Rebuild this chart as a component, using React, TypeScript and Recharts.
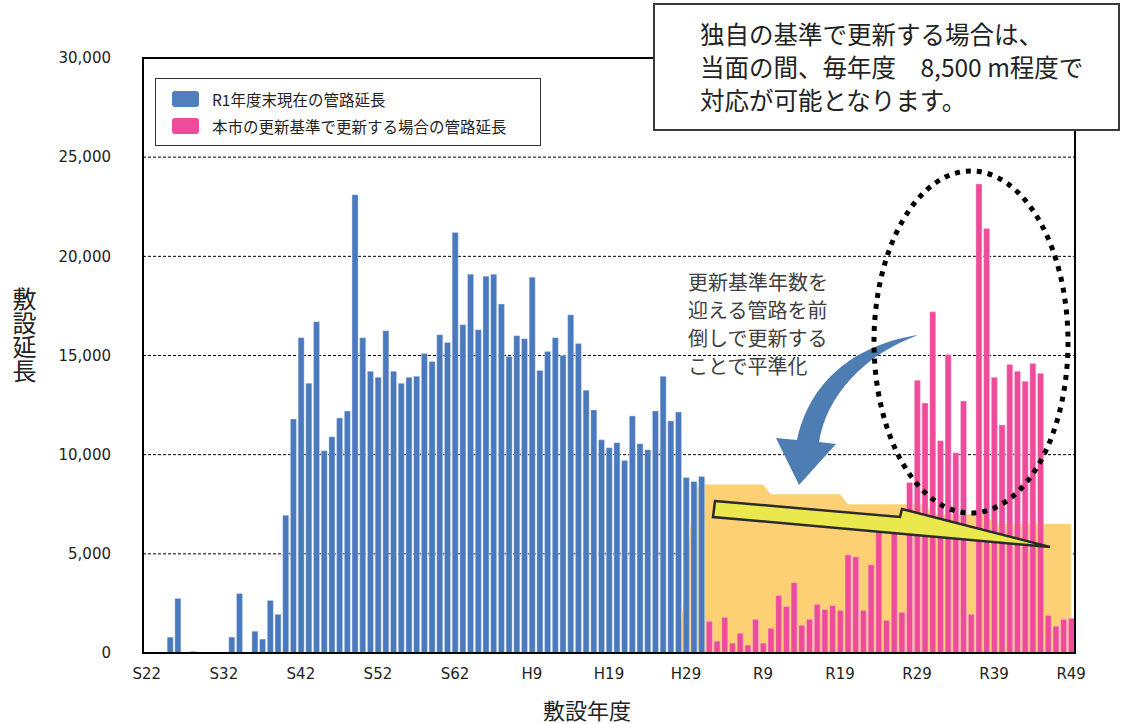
import { ComposedChart, Bar, Area, XAxis, YAxis, CartesianGrid } from 'recharts';

// fiscal years S22..S63, H1..H30, R1..R49
const eraLabels = (prefix: string, from: number, to: number) => {
  const out: string[] = [];
  for (let n = from; n <= to; n++) out.push(`${prefix}${n}`);
  return out;
};
const years = [...eraLabels('S', 22, 63), ...eraLabels('H', 1, 30), ...eraLabels('R', 1, 49)];

const yTicks = [0, 5000, 10000, 15000, 20000, 25000, 30000];

// existing pipes as of end of R1 (S22..R1)
const installedLength = [
  0, 0, 0, 800, 2750, 0, 80, 0, 0, 0,
  0, 800, 3000, 30, 1100, 700, 2650, 1950, 6950, 11800,
  15900, 13600, 16700, 10200, 10900, 11850, 12200, 23100, 15900, 14200,
  13900, 16250, 14200, 13600, 13900, 13950, 15100, 14700, 16050, 15650,
  21200, 16550, 19100, 16300, 19000, 19100, 17600, 14950, 16000, 15850,
  18950, 14250, 15200, 15900, 15000, 17050, 15600, 13250, 12250, 10750,
  10350, 10600, 9700, 11950, 10550, 10250, 12200, 13950, 11700, 12150,
  8850, 8650, 8900,
];

// renewal by city standard (R2..R49)
const renewalLength = [
  1600, 600, 1800, 500, 1000, 400, 1700, 500, 1250, 2900,
  2350, 3550, 1400, 1700, 2450, 2200, 2400, 2150, 4950, 4850,
  2150, 4450, 6300, 1650, 6500, 2050, 8600, 13750, 12600, 17200,
  10700, 15050, 10100, 12700, 1950, 23650, 21400, 13900, 11500, 14550,
  14200, 13700, 14600, 14100, 1900, 1350, 1700, 1750,
];

// leveled renewal (H28..R49)
const leveledLength = [
  0, 4000, 8200,
  8500, 8500, 8500, 8500, 8500, 8500, 8500, 8500, 8500,
  8000, 8000, 8000, 8000, 8000, 8000, 8000, 8000, 8000, 8000,
  7500, 7500, 7500, 7500, 7500, 7500, 7500, 7500, 7500, 7500, 7500,
  7000, 7000, 7000, 7000, 7000, 7000, 7000, 7000,
  6500, 6500, 6500, 6500, 6500, 6500, 6500, 6500, 6500, 6500, 6500,
];

const RENEWAL_START = 73;
const LEVELED_START = 69;

const data = years.map((year, i) => ({
  year,
  installed: i < installedLength.length ? installedLength[i] : null,
  renewal: i >= RENEWAL_START ? renewalLength[i - RENEWAL_START] : null,
  leveled: i >= LEVELED_START ? leveledLength[i - LEVELED_START] : null,
}));

const BLUE = '#4A79BD';
const PINK = '#EE4C9B';
const ORANGE = '#FDD173';
const FONT = '"DejaVu Sans", "Noto Sans CJK JP", sans-serif';
const JP_FONT = '"Noto Sans CJK JP", sans-serif';

export default function App() {
  return (
    <div
      style={{
        position: 'absolute',
        left: 0,
        top: 0,
        width: 1130,
        height: 724,
        background: '#fff',
        fontFamily: FONT,
        overflow: 'hidden',
      }}
    >
      <ComposedChart
        width={1130}
        height={724}
        data={data}
        margin={{ top: 58, right: 55, bottom: 41, left: 83 }}
        barCategoryGap="14%"
      >
        <CartesianGrid vertical={false} stroke="#000" strokeDasharray="3 2" />
        <XAxis
          dataKey="year"
          interval={9}
          tickLine={false}
          axisLine={{ stroke: '#000', strokeWidth: 2 }}
          tick={{ fontSize: 15, fill: '#222' }}
          tickMargin={9}
          height={30}
        />
        <YAxis
          domain={[0, 30000]}
          ticks={yTicks}
          tickFormatter={(v: number) => v.toLocaleString('en-US')}
          width={60}
          tickLine={false}
          axisLine={false}
          tickMargin={26}
          tick={{ fontSize: 15, fill: '#222' }}
        />
        <Area
          dataKey="leveled"
          type="linear"
          stroke="none"
          fill={ORANGE}
          fillOpacity={1}
          isAnimationActive={false}
        />
        <Bar dataKey="installed" stackId="len" fill={BLUE} stroke="#dbe6f6" strokeWidth={0.4} isAnimationActive={false} />
        <Bar dataKey="renewal" stackId="len" fill={PINK} stroke="#fbd3e6" strokeWidth={0.4} isAnimationActive={false} />
      </ComposedChart>

      {/* plot frame */}
      <div
        style={{
          position: 'absolute',
          left: 142,
          top: 57,
          width: 934,
          height: 597,
          border: '2px solid #000',
          boxSizing: 'border-box',
          pointerEvents: 'none',
        }}
      />

      {/* arrows and ellipse */}
      <svg width={1130} height={724} style={{ position: 'absolute', left: 0, top: 0, pointerEvents: 'none' }}>
        <path
          d="M 918 335 C 866 343, 812 372, 797 440 L 776 438 L 799 485 L 836 444 L 819 442 C 827 396, 862 356, 918 335 Z"
          fill="#4E7DB4"
        />
        <polygon
          points="715,501 900,517 902,509 1050,547 713,517"
          fill="#EAE84C"
          stroke="#2b2b2b"
          strokeWidth={2.5}
          strokeLinejoin="miter"
        />
        <ellipse
          cx={971}
          cy={342}
          rx={97}
          ry={171}
          fill="none"
          stroke="#000"
          strokeWidth={5}
          strokeDasharray="5 6"
        />
      </svg>

      {/* legend */}
      <div
        style={{
          position: 'absolute',
          left: 155,
          top: 78,
          width: 386,
          height: 68,
          border: '1.5px solid #333',
          boxSizing: 'border-box',
          background: '#fff',
          fontFamily: JP_FONT,
          fontSize: 15.5,
          color: '#222',
        }}
      >
        <div style={{ position: 'absolute', left: 16, top: 12, width: 27, height: 16, background: '#4F7FBC', borderRadius: 3 }} />
        <div style={{ position: 'absolute', left: 56, top: 9, lineHeight: '22px', whiteSpace: 'nowrap' }}>
          R1年度末現在の管路延長
        </div>
        <div style={{ position: 'absolute', left: 16, top: 39, width: 27, height: 16, background: PINK, borderRadius: 3 }} />
        <div style={{ position: 'absolute', left: 56, top: 36, lineHeight: '22px', whiteSpace: 'nowrap' }}>
          本市の更新基準で更新する場合の管路延長
        </div>
      </div>

      {/* note box */}
      <div
        style={{
          position: 'absolute',
          left: 653,
          top: 3,
          width: 467,
          height: 128,
          border: '2px solid #3a3a3a',
          boxSizing: 'border-box',
          background: '#fff',
          fontFamily: JP_FONT,
          fontSize: 24.5,
          lineHeight: '33px',
          color: '#222',
          padding: '12px 0 0 45px',
          whiteSpace: 'nowrap',
        }}
      >
        <div>独自の基準で更新する場合は、</div>
        <div>当面の間、毎年度　8,500 m程度で</div>
        <div>対応が可能となります。</div>
      </div>

      {/* leveling comment */}
      <div
        style={{
          position: 'absolute',
          left: 688,
          top: 268,
          fontFamily: JP_FONT,
          fontSize: 20,
          lineHeight: '28px',
          color: '#404040',
          whiteSpace: 'nowrap',
        }}
      >
        <div>更新基準年数を</div>
        <div>迎える管路を前</div>
        <div>倒しで更新する</div>
        <div>ことで平準化</div>
      </div>

      {/* axis titles */}
      <div
        style={{
          position: 'absolute',
          left: 10,
          top: 287,
          writingMode: 'vertical-rl',
          fontFamily: JP_FONT,
          fontSize: 24,
          lineHeight: '28px',
          color: '#222',
        }}
      >
        敷設延長
      </div>
      <div
        style={{
          position: 'absolute',
          left: 527,
          top: 693,
          width: 120,
          textAlign: 'center',
          fontFamily: JP_FONT,
          fontSize: 22,
          color: '#222',
        }}
      >
        敷設年度
      </div>
    </div>
  );
}
